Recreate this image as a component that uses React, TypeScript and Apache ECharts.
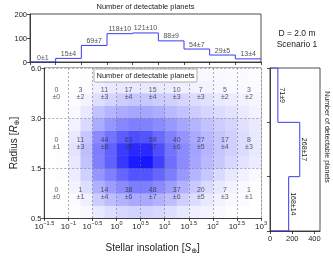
import React, { useEffect, useRef } from 'react';
import * as echarts from 'echarts';

const FONT = "'Liberation Sans', Arial, Helvetica, sans-serif";
const LINE_BLUE = '#3b3bef';
const TEXT = '#222';

// bin edges of log10 insolation, and tick exponents
const binEdges = [-1.5, -1, -0.5, 0, 0.5, 1, 1.5, 2, 2.5, 3];
const xTickExps = ['−1.5', '−1', '−0.5', '0', '0.5', '1', '1.5', '2', '2.5', '3'];
const radiusTickLabels = ['0.5', '1.5', '3.0', '6.0'];

// cell counts per radius band (0.5-1.5, 1.5-3, 3-6)
const countsSmall = [0, 1, 14, 38, 48, 37, 20, 7, 1];
const errsSmall = [0, 1, 4, 6, 7, 6, 5, 3, 1];
const countsMid = [0, 11, 44, 63, 58, 40, 27, 17, 8];
const errsMid = [1, 3, 6, 8, 7, 6, 5, 4, 3];
const countsLarge = [0, 3, 11, 17, 15, 10, 7, 5, 3];
const errsLarge = [0, 2, 3, 4, 4, 3, 3, 2, 2];

// marginal histograms
const topCounts = [0, 15, 69, 118, 121, 88, 54, 29, 13];
const topErrs = [1, 4, 7, 10, 10, 9, 7, 5, 4];
const bandTotals = [168, 268, 71];
const bandErrs = [14, 17, 9];

// background density (0-100), rows from R=0.5 (bottom) to R=6 (top), 18 columns of 0.25 dex
const dens00 = [0, 0, 1, 3, 10, 14, 17, 19, 19, 17, 14, 10, 7, 5, 3, 1, 0, 0];
const dens01 = [0, 0, 2, 7, 22, 28, 33, 37, 37, 33, 28, 21, 15, 10, 6, 3, 2, 0];
const dens02 = [0, 0, 5, 14, 34, 42, 50, 56, 56, 50, 42, 33, 23, 16, 10, 6, 3, 1];
const dens03 = [0, 1, 8, 20, 45, 55, 66, 74, 74, 66, 56, 44, 32, 24, 16, 10, 6, 3];
const dens04 = [0, 1, 10, 26, 55, 68, 86, 98, 100, 82, 62, 50, 38, 30, 23, 17, 12, 8];
const dens05 = [0, 1, 12, 28, 56, 68, 84, 92, 92, 76, 60, 50, 40, 32, 25, 20, 15, 10];
const dens06 = [0, 1, 10, 24, 50, 60, 70, 76, 74, 64, 54, 46, 37, 30, 25, 20, 15, 10];
const dens07 = [0, 0, 6, 16, 36, 45, 52, 55, 54, 50, 44, 38, 32, 26, 22, 18, 13, 9];
const dens08 = [0, 0, 3, 10, 26, 32, 36, 38, 38, 35, 30, 26, 22, 18, 15, 12, 9, 6];
const dens09 = [0, 0, 1, 5, 14, 18, 22, 24, 24, 22, 20, 18, 15, 13, 10, 8, 6, 4];
const dens10 = [0, 0, 0, 2, 7, 9, 10, 10, 10, 9, 8, 7, 6, 5, 4, 3, 3, 2];
const dens11 = [0, 0, 0, 1, 5, 7, 6, 6, 6, 5, 5, 4, 4, 3, 3, 2, 2, 1];
const densityRows = [dens00, dens01, dens02, dens03, dens04, dens05, dens06, dens07, dens08, dens09, dens10, dens11];

const colCenters = binEdges.slice(0, -1).map((e, i) => (e + binEdges[i + 1]) / 2);

function densColor(v: number) {
  const t = Math.max(0, Math.min(1, v / 100));
  const c = Math.round(255 - t * (255 - 22));
  return `rgb(${c},${c},255)`;
}

export default function App() {
  const ref = useRef<HTMLDivElement>(null);
  useEffect(() => {
    if (!ref.current) return;
    const chart = echarts.init(ref.current, undefined, { renderer: 'svg' });

    const xMin = binEdges[0];
    const xMax = binEdges[binEdges.length - 1];
    const nCols = densityRows[0].length;
    const nRows = densityRows.length;
    const cw = (xMax - xMin) / nCols;
    const rh = 3 / nRows;
    const heatData: number[][] = [];
    densityRows.forEach((row, r) => {
      row.forEach((v, c) => {
        heatData.push([xMin + c * cw, xMin + (c + 1) * cw, r * rh, (r + 1) * rh, v]);
      });
    });

    const bands = [
      { counts: countsSmall, errs: errsSmall },
      { counts: countsMid, errs: errsMid },
      { counts: countsLarge, errs: errsLarge },
    ];
    const cellLabels: number[][] = [];
    bands.forEach((b, bi) => {
      b.counts.forEach((c, i) => cellLabels.push([colCenters[i], bi + 0.5, c, b.errs[i]]));
    });

    const topLine = topCounts.map((c, i) => [binEdges[i], c]);
    topLine.push([xMax, topCounts[topCounts.length - 1]]);
    const topLabelData = topCounts.map((c, i) => [colCenters[i], c, topErrs[i]]);

    const rightLine: number[][] = [[0, 0]];
    bandTotals.forEach((v, i) => {
      rightLine.push([v, i]);
      rightLine.push([v, i + 1]);
    });
    rightLine.push([0, bandTotals.length]);
    const rightLabelData = bandTotals.map((v, i) => [v, i + 0.5, bandErrs[i]]);

    const tickLabelStyle = { fontSize: 7.5, color: TEXT, fontFamily: FONT };
    const axisLineStyle = { onZero: false, lineStyle: { color: '#222', width: 0.8 } };
    const tickStyle = { show: true, length: 3, lineStyle: { color: '#222', width: 0.8 } };
    const gridLine = { show: true, lineStyle: { color: '#777', width: 0.6, type: [2, 2] as any } };
    const nameRich = {
      n: { fontSize: 10, color: TEXT, fontFamily: FONT, lineHeight: 14 },
      i: { fontSize: 10, fontStyle: 'italic', color: TEXT, fontFamily: FONT, lineHeight: 14 },
      u: { fontSize: 7, color: TEXT, fontFamily: "'DejaVu Sans', sans-serif", lineHeight: 8, verticalAlign: 'bottom' },
    };

    const option: any = {
      animation: false,
      textStyle: { fontFamily: FONT },
      grid: [
        { left: 30, top: 68, width: 231, height: 163, show: true, borderColor: '#222', borderWidth: 0.8 },
        { left: 30, top: 14, width: 231, height: 48, show: true, borderColor: '#222', borderWidth: 0.8 },
        { left: 270, top: 68, width: 50, height: 163, show: true, borderColor: '#222', borderWidth: 0.8 },
      ],
      xAxis: [
        {
          gridIndex: 0, type: 'value', min: xMin, max: xMax, interval: 0.5, z: 10,
          axisLine: { show: true, ...axisLineStyle }, axisTick: tickStyle, splitLine: gridLine,
          axisLabel: {
            margin: 2,
            formatter: (v: number) => {
              const i = Math.round((v - xMin) / 0.5);
              return `{b|10}{s|${xTickExps[i]}}`;
            },
            rich: {
              b: { fontSize: 8, lineHeight: 13, color: TEXT, fontFamily: FONT },
              s: { fontSize: 5.5, lineHeight: 7, verticalAlign: 'top', color: TEXT, fontFamily: FONT },
            },
          },
          name: '{n|Stellar insolation [}{i|S}{u|⊕}{n|]}',
          nameLocation: 'middle', nameGap: 22,
          nameTextStyle: { rich: nameRich },
        },
        {
          gridIndex: 1, type: 'value', min: xMin, max: xMax, interval: 0.5,
          axisLine: { show: true, ...axisLineStyle }, axisTick: tickStyle, splitLine: { show: false },
          axisLabel: { show: false },
        },
        {
          gridIndex: 2, type: 'value', min: 0, max: 450, interval: 200,
          axisLine: { show: true, ...axisLineStyle }, axisTick: tickStyle, splitLine: { show: false },
          axisLabel: { ...tickLabelStyle, margin: 3 },
        },
      ],
      yAxis: [
        {
          gridIndex: 0, type: 'value', min: 0, max: 3, interval: 1, z: 10,
          axisLine: { show: true, ...axisLineStyle }, axisTick: tickStyle, splitLine: gridLine,
          axisLabel: { ...tickLabelStyle, margin: 3, formatter: (v: number) => radiusTickLabels[Math.round(v)] },
          name: '{n|Radius [}{i|R}{u|⊕}{n|]}',
          nameLocation: 'middle', nameGap: 24, nameRotate: 90,
          nameTextStyle: { rich: nameRich },
        },
        {
          gridIndex: 1, type: 'value', min: 0, max: 200, interval: 100,
          axisLine: { show: true, ...axisLineStyle }, axisTick: tickStyle, splitLine: { show: false },
          axisLabel: { ...tickLabelStyle, margin: 3 },
        },
        {
          gridIndex: 2, type: 'value', min: 0, max: 3, interval: 1,
          axisLine: { show: true, ...axisLineStyle }, axisTick: tickStyle, splitLine: { show: false },
          axisLabel: { show: false },
        },
      ],
      series: [
        {
          type: 'custom', xAxisIndex: 0, yAxisIndex: 0, silent: true, z: 1,
          data: heatData,
          renderItem: (params: any, api: any) => {
            const p0 = api.coord([api.value(0), api.value(3)]);
            const p1 = api.coord([api.value(1), api.value(2)]);
            return {
              type: 'rect',
              shape: { x: p0[0], y: p0[1], width: p1[0] - p0[0] + 0.4, height: p1[1] - p0[1] + 0.4 },
              style: { fill: densColor(api.value(4)), stroke: null },
            };
          },
        },
        {
          type: 'scatter', xAxisIndex: 0, yAxisIndex: 0, silent: true, z: 20,
          symbolSize: 0, data: cellLabels,
          label: {
            show: true, position: 'inside', fontSize: 7, lineHeight: 7.5, color: '#333', fontFamily: FONT,
            formatter: (p: any) => `${p.value[2]}\n±${p.value[3]}`,
          },
        },
        {
          type: 'line', xAxisIndex: 1, yAxisIndex: 1, step: 'end', symbol: 'none', silent: true,
          data: topLine, lineStyle: { color: LINE_BLUE, width: 1 },
        },
        {
          type: 'scatter', xAxisIndex: 1, yAxisIndex: 1, silent: true, symbolSize: 0, data: topLabelData,
          label: {
            show: true, position: 'top', distance: 1.5, fontSize: 7, color: TEXT, fontFamily: FONT,
            formatter: (p: any) => `${p.value[1]}±${p.value[2]}`,
          },
        },
        {
          type: 'line', xAxisIndex: 2, yAxisIndex: 2, symbol: 'none', silent: true,
          data: rightLine, lineStyle: { color: LINE_BLUE, width: 1 },
        },
        {
          type: 'custom', xAxisIndex: 2, yAxisIndex: 2, silent: true, z: 20, data: rightLabelData,
          renderItem: (params: any, api: any) => {
            const p = api.coord([api.value(0), api.value(1)]);
            return {
              type: 'text', x: p[0] + 1.5, y: p[1], rotation: -Math.PI / 2,
              style: {
                text: `${api.value(0)}±${api.value(2)}`, align: 'center', verticalAlign: 'bottom',
                textAlign: 'center', textVerticalAlign: 'bottom',
                fontSize: 7, fontFamily: FONT, fill: TEXT,
              },
            };
          },
        },
      ],
      graphic: [
        {
          type: 'text', x: 145.5, y: 6, z: 100,
          style: { text: 'Number of detectable planets', fontSize: 7.5, fontFamily: FONT, fill: TEXT, align: 'center', verticalAlign: 'middle' },
        },
        {
          type: 'text', x: 297, y: 33, z: 100,
          style: { text: 'D = 2.0 m', fontSize: 8.5, fontFamily: FONT, fill: TEXT, align: 'center', verticalAlign: 'middle' },
        },
        {
          type: 'text', x: 297, y: 44, z: 100,
          style: { text: 'Scenario 1', fontSize: 8.5, fontFamily: FONT, fill: TEXT, align: 'center', verticalAlign: 'middle' },
        },
        {
          type: 'text', x: 327, y: 137, z: 100, rotation: -Math.PI / 2,
          style: { text: 'Number of detectable planets', fontSize: 7, fontFamily: FONT, fill: TEXT, align: 'center', verticalAlign: 'middle' },
        },
        {
          type: 'rect', z: 100, shape: { x: 94, y: 69, width: 103, height: 13, r: 1.5 },
          style: { fill: '#fff', stroke: '#999', lineWidth: 0.8 },
        },
        {
          type: 'text', x: 145.5, y: 75.5, z: 101,
          style: { text: 'Number of detectable planets', fontSize: 7.5, fontFamily: FONT, fill: TEXT, align: 'center', verticalAlign: 'middle' },
        },
      ],
    };
    chart.setOption(option);
    return () => chart.dispose();
  }, []);
  return <div ref={ref} style={{ position: 'fixed', left: 0, top: 0, width: 333, height: 259 }} />;
}
